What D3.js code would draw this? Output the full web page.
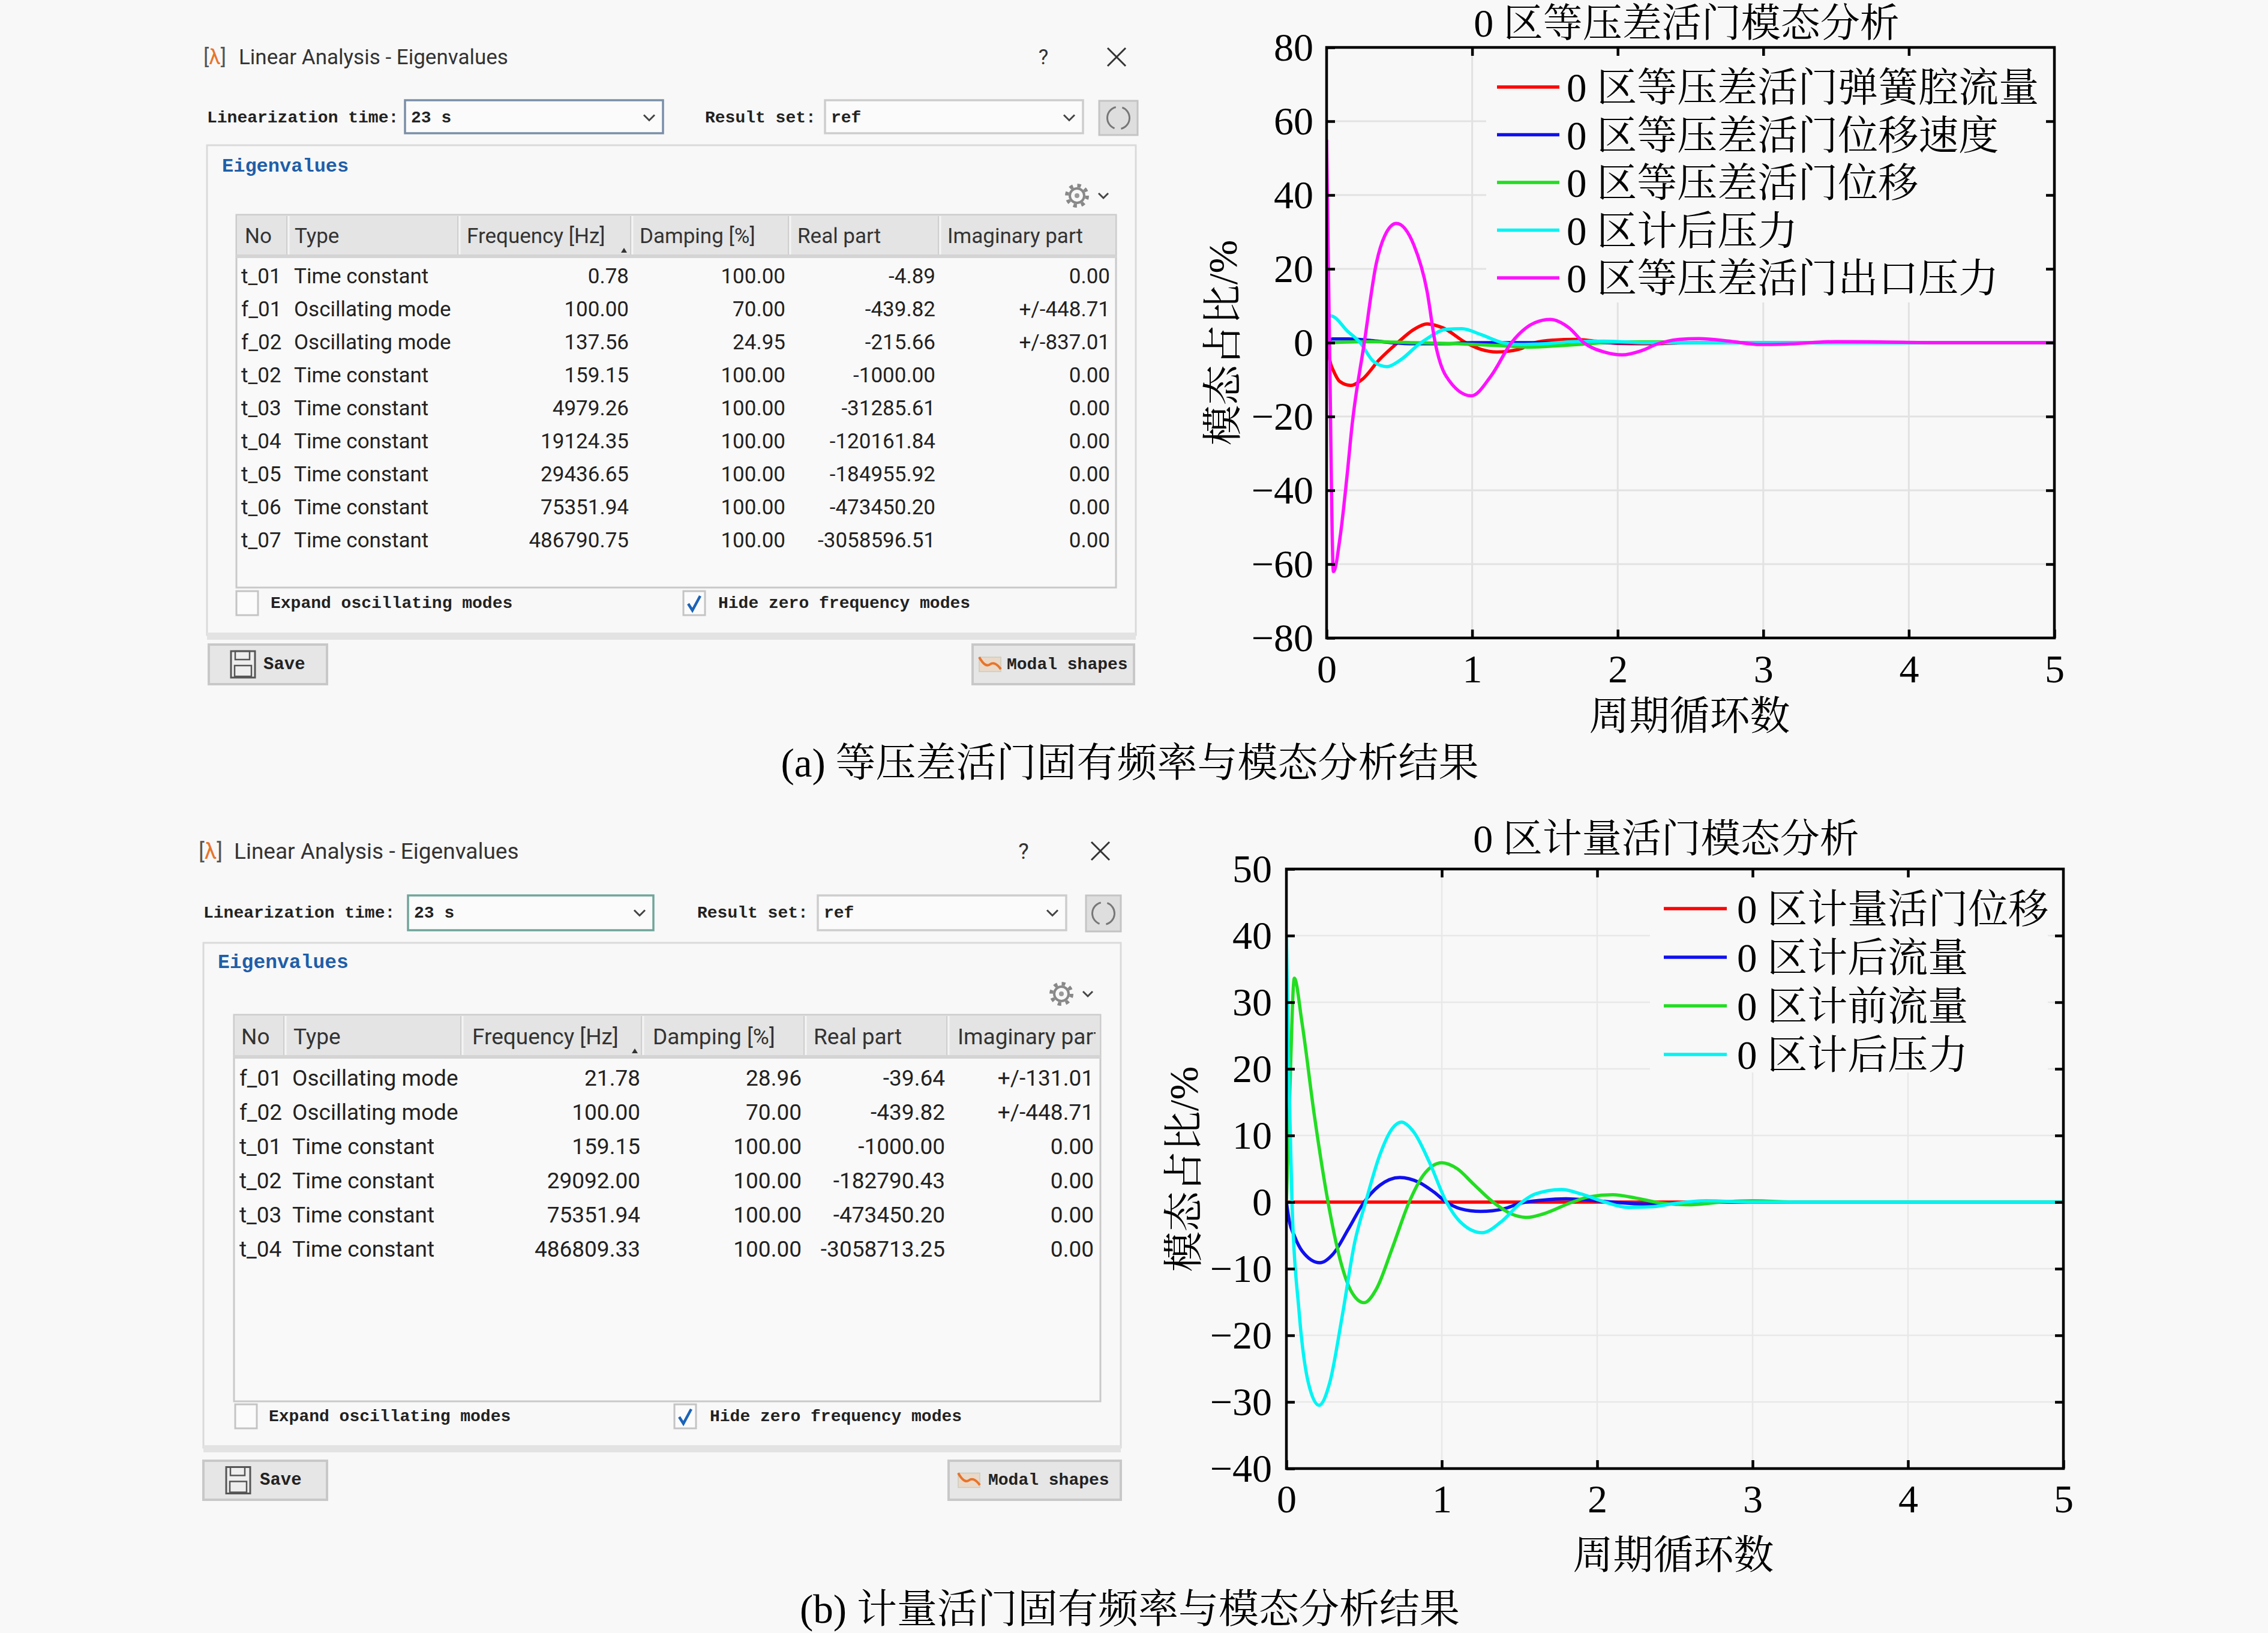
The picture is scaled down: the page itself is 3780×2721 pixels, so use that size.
<!DOCTYPE html>
<html><head><meta charset="utf-8">
<script src="https://cdn.jsdelivr.net/npm/d3@7"></script>
<style>html,body{margin:0;padding:0;background:#f8f8f8;}svg{display:block}</style>
</head><body>
<svg id="c" width="3780" height="2721"></svg>
<script>
// ================= DATA =================
const dialogTitle = "Linear Analysis - Eigenvalues";
const headersA = ["No","Type","Frequency [Hz]","Damping [%]","Real part","Imaginary part"];
const headersB = ["No","Type","Frequency [Hz]","Damping [%]","Real part","Imaginary part"];

const tA_no   = ["t_01","f_01","f_02","t_02","t_03","t_04","t_05","t_06","t_07"];
const tA_type = ["Time constant","Oscillating mode","Oscillating mode","Time constant","Time constant","Time constant","Time constant","Time constant","Time constant"];
const tA_freq = ["0.78","100.00","137.56","159.15","4979.26","19124.35","29436.65","75351.94","486790.75"];
const tA_damp = ["100.00","70.00","24.95","100.00","100.00","100.00","100.00","100.00","100.00"];
const tA_real = ["-4.89","-439.82","-215.66","-1000.00","-31285.61","-120161.84","-184955.92","-473450.20","-3058596.51"];
const tA_imag = ["0.00","+/-448.71","+/-837.01","0.00","0.00","0.00","0.00","0.00","0.00"];

const tB_no   = ["f_01","f_02","t_01","t_02","t_03","t_04"];
const tB_type = ["Oscillating mode","Oscillating mode","Time constant","Time constant","Time constant","Time constant"];
const tB_freq = ["21.78","100.00","159.15","29092.00","75351.94","486809.33"];
const tB_damp = ["28.96","70.00","100.00","100.00","100.00","100.00"];
const tB_real = ["-39.64","-439.82","-1000.00","-182790.43","-473450.20","-3058713.25"];
const tB_imag = ["+/-131.01","+/-448.71","0.00","0.00","0.00","0.00"];

const titleA = "0 区等压差活门模态分析";
const titleB = "0 区计量活门模态分析";
const xLabel = "周期循环数";
const yLabel = "模态占比/%";
const captionA = "(a) 等压差活门固有频率与模态分析结果";
const captionB = "(b) 计量活门固有频率与模态分析结果";
const xTicks = [0,1,2,3,4,5];
const yTicksA = [-80,-60,-40,-20,0,20,40,60,80];
const yTicksB = [-40,-30,-20,-10,0,10,20,30,40,50];

const legendA = ["0 区等压差活门弹簧腔流量","0 区等压差活门位移速度","0 区等压差活门位移","0 区计后压力","0 区等压差活门出口压力"];
const legendB = ["0 区计量活门位移","0 区计后流量","0 区计前流量","0 区计后压力"];
const colorsA = ["#ff0000","#1010f0","#22dd22","#00f4f4","#ff10ff"];
const colorsB = ["#ff0000","#1010f0","#22dd22","#00f4f4"];

// chart (a) series: [cycle, percent]
const a_red = [[0,0],[0.03,-6],[0.047,-7.6],[0.09,-10.5],[0.166,-11.6],[0.249,-9.8],[0.36,-4.7],[0.488,0],[0.6,3.6],[0.69,5.1],[0.8,4],[0.957,0],[1.06,-1.8],[1.17,-2.5],[1.32,-1.8],[1.43,0],[1.56,0.7],[1.7,0.9],[1.85,0.4],[2.0,-0.2],[2.2,-0.3],[2.5,0],[3.0,0],[5,0]];
const a_blue = [[0,0],[0.04,1],[0.15,1],[0.3,0.6],[0.45,0],[0.6,-0.3],[0.8,-0.3],[1.0,0],[1.5,0],[5,0]];
const a_green = [[0,0],[0.3,0.3],[0.6,0],[0.9,-0.3],[1.2,-0.8],[1.4,-1.2],[1.6,-0.8],[1.8,-0.3],[2.0,0.2],[2.3,0.2],[2.6,0],[5,0]];
const a_cyan = [[0,6],[0.02,7.3],[0.05,7],[0.139,3.3],[0.231,0],[0.323,-5.1],[0.415,-6.5],[0.507,-4.7],[0.635,-0.4],[0.69,1.1],[0.82,3.6],[0.93,3.8],[1.06,2.2],[1.21,0],[1.33,-0.5],[1.5,-0.3],[1.7,0.3],[1.9,0.4],[2.2,0],[5,0]];
const a_mag = [[0,55],[0.02,0],[0.047,-62],[0.093,-52.6],[0.139,-36.6],[0.176,-22],[0.259,0],[0.341,21.4],[0.4,29],[0.479,32.3],[0.599,26.5],[0.69,14],[0.746,0],[0.82,-9],[0.994,-14.4],[1.13,-9],[1.27,0],[1.43,5.4],[1.537,6.3],[1.666,4],[1.767,0],[1.905,-2.5],[2.03,-3.3],[2.16,-2.2],[2.27,-0.4],[2.42,0.9],[2.56,1.1],[2.77,0.4],[2.98,-0.5],[3.15,-0.4],[3.5,0.3],[3.8,0.2],[4.2,0],[5,0]];

// chart (b) series
const b_red = [[0,0],[1,0],[2,0],[3,0],[4,0],[5,0]];
const b_blue = [[0,0],[0.02,-3],[0.05,-5],[0.1,-7.3],[0.216,-9.1],[0.3,-7.8],[0.4,-4],[0.5,0],[0.6,2.5],[0.73,3.7],[0.85,3],[0.95,1.5],[1.03,0],[1.12,-1],[1.25,-1.4],[1.4,-1],[1.5,-0.2],[1.65,0.3],[1.8,0.5],[1.95,0.3],[2.1,0],[2.3,-0.3],[2.5,-0.2],[2.7,0],[5,0]];
const b_green = [[0,0],[0.02,15],[0.051,33.6],[0.1,27],[0.18,13],[0.268,0],[0.35,-9],[0.42,-13.5],[0.5,-15.1],[0.58,-13],[0.68,-7],[0.79,0],[0.88,4],[1.0,5.9],[1.1,5],[1.2,2.8],[1.33,0],[1.45,-1.8],[1.55,-2.3],[1.65,-1.8],[1.84,0],[1.95,0.8],[2.1,1.1],[2.25,0.6],[2.4,-0.1],[2.6,-0.4],[2.8,0],[3.0,0.2],[3.3,0],[5,0]];
const b_cyan = [[0,40],[0.015,20],[0.036,0],[0.08,-16],[0.14,-27],[0.21,-30.5],[0.28,-27],[0.36,-17],[0.44,-6],[0.51,0],[0.6,7],[0.68,11],[0.74,12],[0.82,10.5],[0.92,6],[1.03,0],[1.12,-3],[1.26,-4.6],[1.38,-3],[1.5,-0.3],[1.6,1.2],[1.77,1.9],[1.9,1.2],[2.05,0],[2.2,-0.8],[2.35,-0.7],[2.5,-0.2],[2.7,0.2],[3,0],[5,0]];

// ================= DRAWING =================
const SERIF = "'Liberation Serif','Noto Serif CJK SC','Noto Sans CJK SC',serif";
const SANS = "Roboto,'Noto Sans',sans-serif";
const MONO = "'Liberation Mono','DejaVu Sans Mono',monospace";
const BG = "#f8f8f8";
const svg = d3.select("#c");
svg.append("rect").attr("width",3780).attr("height",2721).attr("fill",BG);

function fmtY(d){ return d < 0 ? "\u2212" + Math.abs(d) : String(d); }

function drawChart(cfg){
  const g = svg.append("g");
  const x = d3.scaleLinear().domain([0,5]).range([cfg.x0,cfg.x1]);
  const y = d3.scaleLinear().domain(cfg.ydom).range([cfg.yb,cfg.yt]);
  g.append("rect").attr("x",cfg.x0).attr("y",cfg.yt).attr("width",cfg.x1-cfg.x0).attr("height",cfg.yb-cfg.yt).attr("fill",BG);
  const grid = g.append("g").attr("stroke",cfg.gridColor).attr("stroke-width",cfg.gridW);
  xTicks.slice(1,-1).forEach(t=>grid.append("line").attr("x1",x(t)).attr("x2",x(t)).attr("y1",cfg.yt).attr("y2",cfg.yb));
  cfg.yticks.slice(1,-1).forEach(t=>grid.append("line").attr("x1",cfg.x0).attr("x2",cfg.x1).attr("y1",y(t)).attr("y2",y(t)));
  const lb = cfg.legend.box;
  g.append("rect").attr("x",lb[0]).attr("y",lb[2]).attr("width",lb[1]-lb[0]).attr("height",lb[3]-lb[2]).attr("fill",BG);
  const clipId = "clip"+cfg.id;
  svg.append("defs").append("clipPath").attr("id",clipId).append("rect")
    .attr("x",cfg.x0).attr("y",cfg.yt).attr("width",cfg.x1-cfg.x0).attr("height",cfg.yb-cfg.yt);
  const line = d3.line().x(d=>x(d[0])).y(d=>y(d[1])).curve(d3.curveMonotoneX);
  const lg = g.append("g").attr("clip-path",`url(#${clipId})`);
  cfg.series.forEach((s,i)=>{
    lg.append("path").attr("d",line(s)).attr("fill","none").attr("stroke",cfg.colors[i]).attr("stroke-width",5.5).attr("stroke-linejoin","round");
  });
  const L = cfg.legend;
  cfg.labels.forEach((lab,i)=>{
    const yy = L.y0 + i*L.dy;
    g.append("line").attr("x1",L.x0).attr("x2",L.x1).attr("y1",yy).attr("y2",yy).attr("stroke",cfg.colors[i]).attr("stroke-width",5.5);
    g.append("text").attr("x",L.tx).attr("y",yy + 0.36*L.fs).attr("font-family",SERIF).attr("font-size",L.fs).attr("fill","#000").text(lab);
  });
  g.append("rect").attr("x",cfg.x0).attr("y",cfg.yt).attr("width",cfg.x1-cfg.x0).attr("height",cfg.yb-cfg.yt)
    .attr("fill","none").attr("stroke","#000").attr("stroke-width",4.5);
  const styleAxis = sel => {
    sel.select(".domain").remove();
    sel.attr("font-family",SERIF).attr("font-size",66);
    sel.selectAll(".tick line").attr("stroke","#000").attr("stroke-width",4.5);
    sel.selectAll(".tick text").attr("fill","#000");
  };
  g.append("g").attr("transform",`translate(0,${cfg.yb})`)
    .call(d3.axisBottom(x).tickValues(xTicks).tickSize(-14).tickPadding(cfg.padX).tickFormat(d3.format("d"))).call(styleAxis);
  g.append("g").attr("transform",`translate(0,${cfg.yt})`)
    .call(d3.axisTop(x).tickValues(xTicks.slice(1,-1)).tickSize(-14).tickFormat("")).call(styleAxis);
  g.append("g").attr("transform",`translate(${cfg.x0},0)`)
    .call(d3.axisLeft(y).tickValues(cfg.yticks).tickSize(-14).tickPadding(cfg.padY).tickFormat(fmtY)).call(styleAxis);
  g.append("g").attr("transform",`translate(${cfg.x1},0)`)
    .call(d3.axisRight(y).tickValues(cfg.yticks.slice(1,-1)).tickSize(-14).tickFormat("")).call(styleAxis);
  g.append("text").attr("x",cfg.titleX).attr("y",cfg.titleY).attr("text-anchor","middle")
    .attr("font-family",SERIF).attr("font-size",66).attr("fill","#000").text(cfg.title);
  g.append("text").attr("x",cfg.xlabX).attr("y",cfg.xlabY).attr("text-anchor","middle")
    .attr("font-family",SERIF).attr("font-size",67).attr("fill","#000").text(xLabel);
  g.append("text").attr("transform",`translate(${cfg.ylabX},${cfg.ylabY}) rotate(-90)`).attr("text-anchor","middle")
    .attr("font-family",SERIF).attr("font-size",67).attr("fill","#000").text(yLabel);
}

drawChart({id:"A", x0:2211, x1:3424, yt:79, yb:1063, ydom:[-80,80], yticks:yTicksA, padX:27, padY:22,
  gridColor:"#e2e2e2", gridW:3,
  title:titleA, titleX:2811, titleY:61, xlabX:2816, xlabY:1216, ylabX:2061, ylabY:571,
  legend:{x0:2495,x1:2599,y0:145,dy:79.5,tx:2611,fs:67,box:[2477,3416,92,504]},
  series:[a_red,a_blue,a_green,a_cyan,a_mag], colors:colorsA, labels:legendA});

drawChart({id:"B", x0:2144, x1:3439, yt:1448, yb:2447, ydom:[-40,50], yticks:yTicksB, padX:26, padY:24,
  gridColor:"#e8e8e8", gridW:2.5,
  title:titleB, titleX:2777, titleY:1420, xlabX:2789, xlabY:2614, ylabX:1996, ylabY:1948,
  legend:{x0:2773,x1:2878,y0:1514,dy:81,tx:2895,fs:67,box:[2750,3413,1462,1787]},
  series:[b_red,b_blue,b_green,b_cyan], colors:colorsB, labels:legendB});

svg.append("text").attr("x",1883).attr("y",1294).attr("text-anchor","middle").attr("font-family",SERIF).attr("font-size",67).attr("fill","#000").text(captionA);
svg.append("text").attr("x",1883).attr("y",2704).attr("text-anchor","middle").attr("font-family",SERIF).attr("font-size",67).attr("fill","#000").text(captionB);

// ---------- dialogs ----------
function chevron(g,cx,cy,w){
  g.append("path").attr("d",`M${cx-w/2},${cy-w/4} L${cx},${cy+w/4} L${cx+w/2},${cy-w/4}`)
    .attr("fill","none").attr("stroke","#444").attr("stroke-width",3);
}
function txt(g,x,y,s,font,size,opt={}){
  return g.append("text").attr("x",x).attr("y",y).attr("font-family",font).attr("font-size",size)
    .attr("dominant-baseline","central").attr("fill",opt.fill||"#222").attr("text-anchor",opt.anchor||"start")
    .attr("font-weight",opt.weight||"normal").text(s);
}
function drawDialog(c, cols){
  const g = svg.append("g");
  const fs = c.fs, ms = c.ms;
  const t = g.append("text").attr("x",c.titleX).attr("y",c.titleY).attr("font-family",SANS).attr("font-size",fs).attr("dominant-baseline","central");
  t.append("tspan").attr("fill","#555").text("[");
  t.append("tspan").attr("fill","#e8742a").text("λ");
  t.append("tspan").attr("fill","#555").text("]");
  txt(g,c.titleTextX,c.titleY,dialogTitle,SANS,fs,{fill:"#333"});
  txt(g,c.qX,c.titleY,"?",SANS,fs,{fill:"#333",anchor:"middle"});
  g.append("path").attr("d",`M${c.xX-15},${c.titleY-15} L${c.xX+15},${c.titleY+15} M${c.xX+15},${c.titleY-15} L${c.xX-15},${c.titleY+15}`)
    .attr("stroke","#333").attr("stroke-width",3);
  txt(g,c.linX,c.rowY,"Linearization time:",MONO,ms,{fill:"#222",weight:"bold"});
  const cb1=c.combo1;
  g.append("rect").attr("x",cb1[0]).attr("y",cb1[2]).attr("width",cb1[1]-cb1[0]).attr("height",cb1[3]-cb1[2]).attr("fill","#fbfbfb").attr("stroke",c.focusColor).attr("stroke-width",3.5);
  txt(g,cb1[0]+10,c.rowY,"23 s",MONO,ms,{fill:"#222",weight:"bold"});
  chevron(g,cb1[1]-23,c.rowY,18);
  txt(g,c.resX,c.rowY,"Result set:",MONO,ms,{fill:"#222",weight:"bold"});
  const cb2=c.combo2;
  g.append("rect").attr("x",cb2[0]).attr("y",cb2[2]).attr("width",cb2[1]-cb2[0]).attr("height",cb2[3]-cb2[2]).attr("fill","#fbfbfb").attr("stroke","#cdcdcd").attr("stroke-width",3.5);
  txt(g,cb2[0]+10,c.rowY,"ref",MONO,ms,{fill:"#222",weight:"bold"});
  chevron(g,cb2[1]-23,c.rowY,18);
  const rf=c.refresh;
  g.append("rect").attr("x",rf[0]).attr("y",rf[2]).attr("width",rf[1]-rf[0]).attr("height",rf[3]-rf[2]).attr("fill","#dedede").attr("stroke","#c4c4c4").attr("stroke-width",3);
  const rcx=(rf[0]+rf[1])/2, rcy=(rf[2]+rf[3])/2;
  g.append("path").attr("d",d3.arc()({innerRadius:17,outerRadius:20,startAngle:0.35,endAngle:2.9})).attr("transform",`translate(${rcx},${rcy})`).attr("fill","#777");
  g.append("path").attr("d",d3.arc()({innerRadius:17,outerRadius:20,startAngle:3.5,endAngle:6.05})).attr("transform",`translate(${rcx},${rcy})`).attr("fill","#777");
  const gb=c.group;
  g.append("rect").attr("x",gb[0]).attr("y",gb[2]).attr("width",gb[1]-gb[0]).attr("height",gb[3]-gb[2]).attr("fill","#f8f8f8").attr("stroke","#dadada").attr("stroke-width",3);
  g.append("rect").attr("x",gb[0]).attr("y",gb[3]-4).attr("width",gb[1]-gb[0]).attr("height",12).attr("fill","#e3e3e3");
  txt(g,c.eigX,c.eigY,"Eigenvalues",MONO,c.es,{fill:"#1f5ea8",weight:"bold"});
  const gx=c.gear[0], gy=c.gear[1];
  g.append("circle").attr("cx",gx).attr("cy",gy).attr("r",12).attr("fill","none").attr("stroke","#888").attr("stroke-width",4);
  g.append("circle").attr("cx",gx).attr("cy",gy).attr("r",17).attr("fill","none").attr("stroke","#888").attr("stroke-width",6).attr("stroke-dasharray","6 7.35");
  g.append("circle").attr("cx",gx).attr("cy",gy).attr("r",4).attr("fill","#999");
  chevron(g,gx+44,gy,16);
  const tb=c.table;
  g.append("rect").attr("x",tb[0]).attr("y",tb[2]).attr("width",tb[1]-tb[0]).attr("height",tb[3]-tb[2]).attr("fill","#f9f9f9").attr("stroke","#c9c9c9").attr("stroke-width",3);
  g.append("rect").attr("x",tb[0]).attr("y",tb[2]).attr("width",tb[1]-tb[0]).attr("height",c.headerY1-tb[2]).attr("fill","#e4e4e4").attr("stroke","#cccccc").attr("stroke-width",2);
  g.append("rect").attr("x",tb[0]).attr("y",c.headerY1-5).attr("width",tb[1]-tb[0]).attr("height",6).attr("fill","#d4d4d4");
  c.colLines.forEach(xx=>{
    g.append("line").attr("x1",xx).attr("x2",xx).attr("y1",tb[2]+2).attr("y2",c.headerY1-5).attr("stroke","#f4f4f4").attr("stroke-width",3);
    g.append("line").attr("x1",xx-3).attr("x2",xx-3).attr("y1",tb[2]+2).attr("y2",c.headerY1-5).attr("stroke","#cfcfcf").attr("stroke-width",2);
  });
  const clipId="tclip"+c.id;
  svg.append("defs").append("clipPath").attr("id",clipId).append("rect").attr("x",tb[0]).attr("y",tb[2]).attr("width",tb[1]-tb[0]-8).attr("height",tb[3]-tb[2]);
  const hg=g.append("g").attr("clip-path",`url(#${clipId})`);
  const hy=(tb[2]+c.headerY1)/2;
  c.headers.forEach((h,i)=>txt(hg,c.headerX[i],hy,h,SANS,fs,{fill:"#333"}));
  g.append("path").attr("d",`M${c.sort[0]-5},${c.sort[1]+4} L${c.sort[0]},${c.sort[1]-4} L${c.sort[0]+5},${c.sort[1]+4} Z`).attr("fill","#333");
  const n = cols[0].length;
  for(let r=0;r<n;r++){
    const yy=c.rowY0+r*c.rowDy;
    txt(hg,c.colX[0],yy,cols[0][r],SANS,fs,{fill:"#222"});
    txt(hg,c.colX[1],yy,cols[1][r],SANS,fs,{fill:"#222"});
    for(let k=2;k<6;k++) txt(hg,c.colX[k],yy,cols[k][r],SANS,fs,{fill:"#222",anchor:"end"});
  }
  const cs=c.chkSize;
  g.append("rect").attr("x",c.chk1[0]).attr("y",c.chk1[1]-cs/2).attr("width",cs-4).attr("height",cs).attr("fill","#fbfbfb").attr("stroke","#c4c4c4").attr("stroke-width",3);
  txt(g,c.chk1T,c.chk1[1],"Expand oscillating modes",MONO,ms,{fill:"#222",weight:"bold"});
  g.append("rect").attr("x",c.chk2[0]).attr("y",c.chk2[1]-cs/2).attr("width",cs-4).attr("height",cs).attr("fill","#fbfbfb").attr("stroke","#c4c4c4").attr("stroke-width",3);
  const kx=c.chk2[0], ky=c.chk2[1];
  g.append("path").attr("d",`M${kx+8},${ky+1} L${kx+15},${ky+12} L${kx+28},${ky-12}`).attr("fill","none").attr("stroke","#1b63b8").attr("stroke-width",4.5);
  txt(g,c.chk2T,c.chk2[1],"Hide zero frequency modes",MONO,ms,{fill:"#222",weight:"bold"});
  const sv=c.save;
  g.append("rect").attr("x",sv[0]).attr("y",sv[2]).attr("width",sv[1]-sv[0]).attr("height",sv[3]-sv[2]).attr("fill","#e6e6e6").attr("stroke","#c8c8c8").attr("stroke-width",4);
  const bcy=(sv[2]+sv[3])/2;
  const ix=c.saveIcon;
  g.append("rect").attr("x",ix).attr("y",bcy-22).attr("width",40).attr("height",44).attr("fill","#eee").attr("stroke","#555").attr("stroke-width",3);
  g.append("rect").attr("x",ix+7).attr("y",bcy-22).attr("width",24).attr("height",14).attr("fill","none").attr("stroke","#555").attr("stroke-width",2.5);
  g.append("rect").attr("x",ix+6).attr("y",bcy+2).attr("width",28).attr("height",18).attr("fill","none").attr("stroke","#555").attr("stroke-width",2.5);
  txt(g,c.saveT,bcy,"Save",MONO,c.bs,{fill:"#222",weight:"bold"});
  const md=c.modal;
  g.append("rect").attr("x",md[0]).attr("y",md[2]).attr("width",md[1]-md[0]).attr("height",md[3]-md[2]).attr("fill","#e6e6e6").attr("stroke","#c8c8c8").attr("stroke-width",4);
  const mx=c.modalIcon;
  g.append("rect").attr("x",mx).attr("y",bcy-12).attr("width",36).attr("height",24).attr("fill","#e9d9c9").attr("stroke","#ccb").attr("stroke-width",1.5);
  g.append("path").attr("d",`M${mx},${bcy-12} Q${mx+10},${bcy+6} ${mx+18},${bcy} T${mx+36},${bcy+8}`).attr("fill","none").attr("stroke","#e8742a").attr("stroke-width",4);
  txt(g,c.modalT,bcy,"Modal shapes",MONO,ms,{fill:"#222",weight:"bold"});
}

drawDialog({id:"A", fs:35, ms:28, es:32, bs:29, focusColor:"#7a8ea8",
  titleX:339, titleTextX:398, titleY:95, qX:1739, xX:1861,
  rowY:196, linX:345, combo1:[675,1105,167,222], resX:1175, combo2:[1375,1805,167,222], refresh:[1832,1896,168,225],
  group:[345,1893,242,1058], eigX:370, eigY:277, gear:[1795,326],
  table:[394,1860,358,979], headerY1:429, colLines:[481,766,1054,1317,1567],
  headers:headersA, headerX:[408,491,778,1066,1329,1579], sort:[1040,417],
  rowY0:460, rowDy:55, colX:[402,490,1048,1309,1559,1850],
  chkSize:40, chk1:[394,1005], chk1T:451, chk2:[1139,1005], chk2T:1197,
  save:[348,545,1074,1140], saveIcon:385, saveT:439,
  modal:[1621,1890,1074,1140], modalIcon:1632, modalT:1678},
  [tA_no,tA_type,tA_freq,tA_damp,tA_real,tA_imag]);

drawDialog({id:"B", fs:37, ms:28, es:33, bs:29, focusColor:"#6fa59a",
  titleX:331, titleTextX:390, titleY:1418, qX:1706, xX:1834,
  rowY:1521, linX:339, combo1:[680,1089,1492,1550], resX:1162, combo2:[1363,1777,1492,1550], refresh:[1810,1868,1492,1552],
  group:[339,1868,1571,2412], eigX:363, eigY:1604, gear:[1769,1656],
  table:[390,1834,1691,2335], headerY1:1763, colLines:[476,771,1072,1343,1581],
  headers:headersB, headerX:[402,489,787,1088,1356,1596], sort:[1058,1751],
  rowY0:1796, rowDy:57, colX:[399,487,1067,1336,1575,1823],
  chkSize:40, chk1:[392,2360], chk1T:448, chk2:[1124,2360], chk2T:1183,
  save:[339,545,2434,2499], saveIcon:377, saveT:433,
  modal:[1581,1868,2434,2499], modalIcon:1597, modalT:1647},
  [tB_no,tB_type,tB_freq,tB_damp,tB_real,tB_imag]);
</script>
</body></html>
